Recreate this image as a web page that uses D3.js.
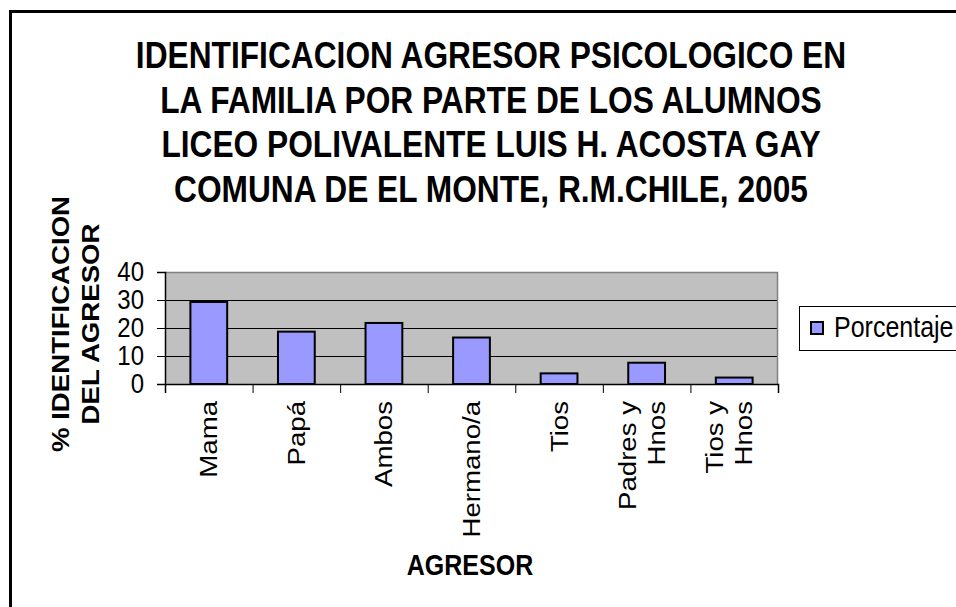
<!DOCTYPE html>
<html><head><meta charset="utf-8">
<script src="https://cdn.jsdelivr.net/npm/d3@7"></script>
<style>body{margin:0;background:#fff}svg{display:block;font-family:Arial,"Liberation Sans",sans-serif}</style>
</head><body><svg id="c" width="956" height="607"></svg>
<script>
const categories = [["Mama"],["Papá"],["Ambos"],["Hermano/a"],["Tios"],["Padres y","Hnos"],["Tios y","Hnos"]];
const values = [29.3, 18.7, 21.8, 16.6, 3.8, 7.6, 2.3];
const yTicks = [0, 10, 20, 30, 40];
const seriesName = "Porcentaje";
const titleLines = ["IDENTIFICACION AGRESOR PSICOLOGICO EN","LA FAMILIA POR PARTE DE LOS ALUMNOS","LICEO POLIVALENTE LUIS H. ACOSTA GAY","COMUNA DE EL MONTE, R.M.CHILE, 2005"];
const yTitleLines = ["% IDENTIFICACION","DEL AGRESOR"];
const xTitle = "AGRESOR";

const SY = 1.15; // vertical stretch of the original rendering
const svg = d3.select("#c");
svg.append("rect").attr("x",10.5).attr("y",11.5).attr("width",1000).attr("height",700)
  .attr("fill","#fff").attr("stroke","#000").attr("stroke-width",3);

const L=165,R=778,T=272,B=384;
const x = d3.scaleBand().domain(categories.map((d,i)=>i)).range([L,R]).paddingInner(0.58).paddingOuter(0.29);
const xb = d3.scaleLinear().domain([0,categories.length]).range([L,R]);
const y = d3.scaleLinear().domain([0,40]).range([B,T]);

svg.append("rect").attr("x",L).attr("y",T).attr("width",R-L).attr("height",B-T).attr("fill","#c0c0c0");
svg.append("g").selectAll("line").data(yTicks.filter(t=>t>0&&t<40)).join("line")
  .attr("x1",L).attr("x2",R).attr("y1",d=>y(d)+0.5).attr("y2",d=>y(d)+0.5).attr("stroke","#000").attr("stroke-width",1);
svg.append("path").attr("d",`M${L},${T+0.5}H${R-0.5}V${B}`).attr("fill","none").attr("stroke","#808080").attr("stroke-width",1.5);

svg.append("g").selectAll("rect").data(values).join("rect")
  .attr("x",(d,i)=>x(i)).attr("width",x.bandwidth())
  .attr("y",d=>y(d)).attr("height",d=>B-y(d))
  .attr("fill","#9999ff").attr("stroke","#000").attr("stroke-width",2);

const ya = svg.append("g").attr("transform",`translate(${L},0)`)
  .call(d3.axisLeft(y).tickValues(yTicks).tickSize(8).tickPadding(13));
ya.select(".domain").attr("stroke","#000").attr("stroke-width",1.5);
ya.selectAll("text").attr("font-size",24).attr("fill","#000").attr("font-family","Arial,'Liberation Sans',sans-serif")
  .attr("dy",null).attr("transform",`translate(0,8) scale(1,${SY})`).attr("y",0);

const xa = svg.append("g").attr("transform",`translate(0,${B})`)
  .call(d3.axisBottom(xb).tickValues(d3.range(categories.length+1)).tickSize(9).tickFormat(""));
xa.select(".domain").attr("stroke","#000").attr("stroke-width",1.5);

const cl = svg.append("g").selectAll("g").data(categories).join("g")
  .attr("transform",(d,i)=>`translate(${x(i)+x.bandwidth()/2},401)`);
cl.each(function(lines){
  const g=d3.select(this);
  const n=lines.length;
  lines.forEach((t,j)=>{
    const off = n>1 ? (j-(n-1)/2)*29-5 : 0;
    g.append("text").attr("transform",`translate(${off+8.5},0) rotate(-90) scale(${SY},1)`)
     .attr("text-anchor","end").attr("font-size",24).text(t);
  });
});

svg.append("g").selectAll("text").data(titleLines).join("text")
  .attr("transform",(d,i)=>`translate(491,${68+i*44.5}) scale(1,${SY})`).attr("text-anchor","middle")
  .attr("font-weight","bold").attr("font-size",31.7).text(d=>d);

svg.append("g").selectAll("text").data(yTitleLines).join("text")
  .attr("transform",(d,i)=>`translate(${69+i*30},324) rotate(-90) scale(${SY},1)`).attr("text-anchor","middle")
  .attr("font-weight","bold").attr("font-size",24).text(d=>d);

svg.append("text").attr("transform",`translate(470,575) scale(1,${SY})`).attr("text-anchor","middle")
  .attr("font-weight","bold").attr("font-size",25).text(xTitle);

svg.append("rect").attr("x",799.5).attr("y",306.5).attr("width",200).attr("height",44)
  .attr("fill","#fff").attr("stroke","#000").attr("stroke-width",1);
svg.append("rect").attr("x",811).attr("y",322).attr("width",12).attr("height",12)
  .attr("fill","#9999ff").attr("stroke","#000").attr("stroke-width",2);
svg.append("text").attr("transform",`translate(834,337) scale(1,${SY})`).attr("font-size",25).text(seriesName);
</script></body></html>
